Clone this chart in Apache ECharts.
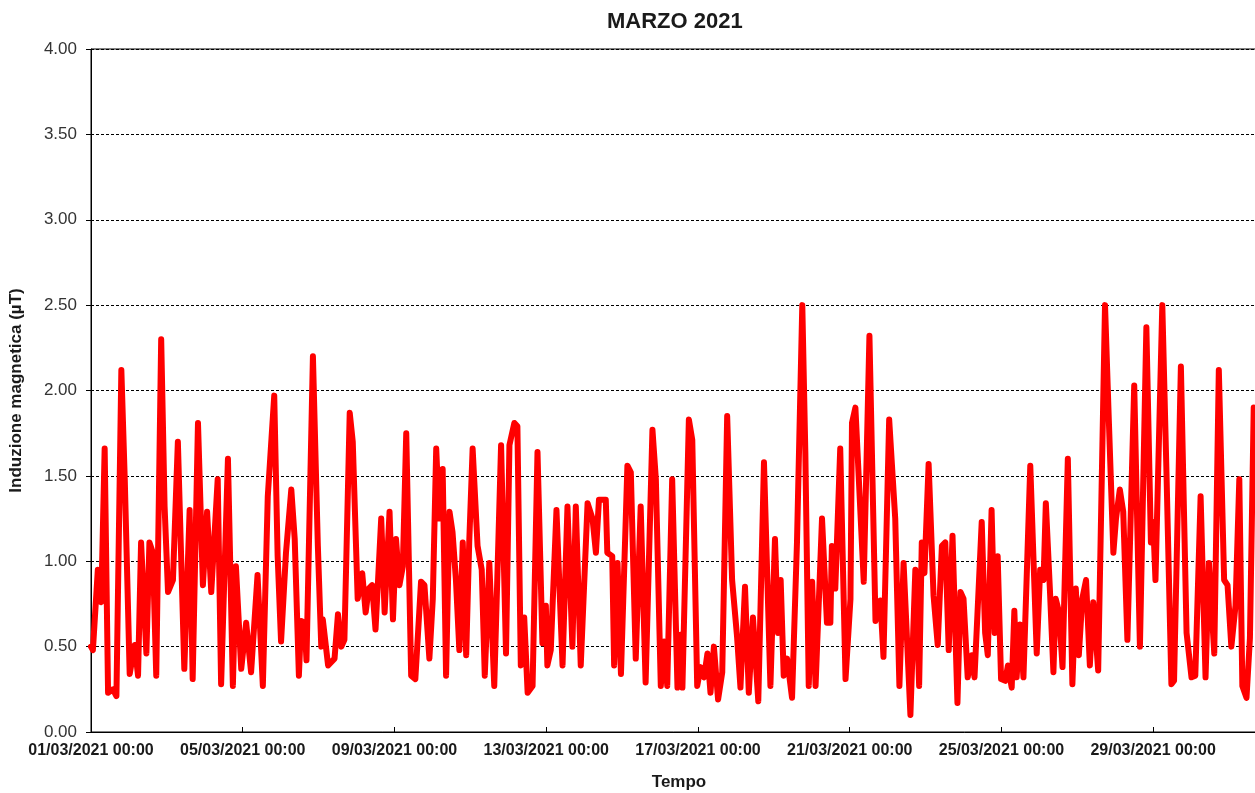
<!DOCTYPE html>
<html>
<head>
<meta charset="utf-8">
<script src="https://cdn.jsdelivr.net/npm/echarts@6/dist/echarts.min.js"></script>
<style>
  html, body { margin: 0; padding: 0; background: #ffffff; }
  #chart { width: 1255px; height: 793px; }
</style>
</head>
<body>
<div id="chart"></div>
<script>
// Chart texts
const chartTitle = 'MARZO 2021';
const yAxisTitle = 'Induzione magnetica (µT)';
const xAxisTitle = 'Tempo';
const monthLabel = '03/2021 00:00';

// Time of each reading, in days since 01/03/2021 00:00
const tDays = [
  0.00, 0.05, 0.18, 0.27, 0.36, 0.45, 0.58, 0.67, 0.80, 0.89,
  1.02, 1.15, 1.24, 1.32, 1.46, 1.54, 1.63, 1.72, 1.85, 1.94,
  2.03, 2.16, 2.29, 2.46, 2.60, 2.68, 2.82, 2.95, 3.06, 3.17,
  3.34, 3.43, 3.61, 3.74, 3.82, 3.96, 4.09, 4.22, 4.39, 4.53,
  4.66, 4.83, 4.92, 5.01, 5.14, 5.28, 5.37, 5.48, 5.54, 5.63,
  5.68, 5.85, 5.98, 6.07, 6.11, 6.25, 6.42, 6.51, 6.60, 6.68,
  6.82, 6.90, 7.03, 7.15, 7.24, 7.32, 7.41, 7.50, 7.65, 7.74,
  7.87, 7.96, 8.04, 8.13, 8.22, 8.31, 8.44, 8.55, 8.70, 8.79,
  8.92, 9.01, 9.10, 9.18, 9.27, 9.36, 9.45, 9.53, 9.62, 9.71,
  9.80, 9.89, 9.97, 10.06, 10.19, 10.30, 10.38, 10.50, 10.63, 10.81,
  10.94, 11.03, 11.16, 11.24, 11.33, 11.42, 11.51, 11.64, 11.77, 11.90,
  11.99, 12.03, 12.12, 12.27, 12.43, 12.56, 12.69, 12.78, 12.91, 13.09,
  13.22, 13.31, 13.39, 13.57, 13.61, 13.74, 13.79, 13.88, 13.97, 14.14,
  14.23, 14.36, 14.49, 14.62, 14.80, 14.89, 15.02, 15.11, 15.19, 15.32,
  15.46, 15.54, 15.59, 15.76, 15.85, 15.98, 16.07, 16.16, 16.25, 16.33,
  16.42, 16.53, 16.64, 16.77, 16.90, 17.03, 17.12, 17.24, 17.34, 17.45,
  17.59, 17.74, 17.91, 18.03, 18.11, 18.18, 18.26, 18.35, 18.48, 18.61,
  18.75, 18.83, 18.92, 19.01, 19.10, 19.27, 19.40, 19.49, 19.53, 19.62,
  19.75, 19.89, 20.02, 20.06, 20.15, 20.37, 20.52, 20.68, 20.81, 20.89,
  21.04, 21.20, 21.31, 21.42, 21.60, 21.73, 21.83, 21.90, 21.97, 22.08,
  22.21, 22.32, 22.43, 22.52, 22.61, 22.71, 22.84, 22.92, 23.00, 23.11,
  23.22, 23.29, 23.48, 23.57, 23.64, 23.74, 23.82, 23.90, 23.99, 24.10,
  24.17, 24.27, 24.34, 24.40, 24.49, 24.58, 24.76, 24.93, 25.02, 25.11,
  25.17, 25.28, 25.37, 25.43, 25.52, 25.61, 25.75, 25.87, 25.96, 26.04,
  26.13, 26.23, 26.33, 26.42, 26.55, 26.73, 26.83, 26.95, 27.02, 27.12,
  27.21, 27.32, 27.50, 27.65, 27.82, 27.94, 28.00, 28.06, 28.24, 28.35,
  28.48, 28.55, 28.73, 28.88, 29.01, 29.11, 29.25, 29.38, 29.47, 29.61,
  29.73, 29.87, 29.96, 30.06, 30.17, 30.27, 30.35, 30.46, 30.55, 30.65,
  30.80, 30.95
];

// Magnetic induction (µT) at each time
const induzione = [
  0.50, 0.48, 0.95, 0.76, 1.66, 0.23, 0.25, 0.21, 2.12, 1.48,
  0.34, 0.51, 0.33, 1.11, 0.46, 1.11, 1.05, 0.33, 2.30, 1.32,
  0.82, 0.89, 1.70, 0.37, 1.30, 0.31, 1.81, 0.86, 1.29, 0.82,
  1.48, 0.28, 1.60, 0.27, 0.97, 0.37, 0.64, 0.35, 0.92, 0.27,
  1.38, 1.97, 1.03, 0.53, 1.05, 1.42, 1.13, 0.33, 0.65, 0.64,
  0.42, 2.20, 1.09, 0.50, 0.66, 0.39, 0.43, 0.69, 0.50, 0.54,
  1.87, 1.70, 0.78, 0.93, 0.70, 0.84, 0.86, 0.60, 1.25, 0.70,
  1.29, 0.66, 1.13, 0.86, 0.97, 1.75, 0.33, 0.31, 0.88, 0.86,
  0.43, 0.78, 1.66, 1.25, 1.54, 0.33, 1.29, 1.17, 0.89, 0.48,
  1.11, 0.45, 1.11, 1.66, 1.09, 0.95, 0.33, 0.99, 0.27, 1.68,
  0.46, 1.68, 1.81, 1.79, 0.39, 0.67, 0.23, 0.27, 1.64, 0.52,
  0.74, 0.39, 0.48, 1.30, 0.39, 1.32, 0.50, 1.32, 0.39, 1.34,
  1.25, 1.05, 1.36, 1.36, 1.05, 1.03, 0.39, 0.99, 0.34, 1.56,
  1.52, 0.43, 1.32, 0.29, 1.77, 1.48, 0.27, 0.53, 0.27, 1.48,
  0.26, 0.57, 0.26, 1.83, 1.71, 0.27, 0.38, 0.32, 0.46, 0.23,
  0.50, 0.19, 0.35, 1.85, 0.89, 0.56, 0.26, 0.85, 0.23, 0.67,
  0.18, 1.58, 0.27, 1.13, 0.58, 0.89, 0.33, 0.43, 0.20, 1.11,
  2.50, 1.64, 0.27, 0.88, 0.27, 1.25, 0.64, 0.64, 1.09, 0.84,
  1.66, 0.31, 0.78, 1.81, 1.90, 0.88, 2.32, 0.65, 0.77, 0.44,
  1.83, 1.25, 0.27, 0.99, 0.10, 0.95, 0.27, 1.11, 0.93, 1.57,
  0.80, 0.51, 1.09, 1.11, 0.48, 1.15, 0.17, 0.82, 0.78, 0.32,
  0.45, 0.32, 1.23, 0.58, 0.45, 1.30, 0.58, 1.03, 0.31, 0.30,
  0.39, 0.26, 0.71, 0.32, 0.63, 0.32, 1.56, 0.46, 0.95, 0.89,
  1.34, 0.82, 0.35, 0.78, 0.70, 0.38, 1.60, 0.28, 0.84, 0.45,
  0.78, 0.89, 0.39, 0.76, 0.36, 2.50, 1.83, 1.05, 1.25, 1.42,
  1.29, 0.54, 2.03, 0.50, 2.37, 1.11, 1.23, 0.89, 2.50, 1.52,
  0.28, 0.30, 2.14, 0.58, 0.32, 0.33, 1.38, 0.32, 0.99, 0.46,
  2.12, 0.89, 0.86, 0.50, 0.74, 1.48, 0.27, 0.20, 0.55, 1.90,
  1.30, 0.80
];

// Axis scales
const yMin = 0, yMax = 4, yStep = 0.5;
const xMinDay = 0, xMaxDay = 31, xStepDays = 4;

const seriesData = tDays.map((t, i) => [t, induzione[i]]);
const pad2 = n => (n < 10 ? '0' : '') + n;

const chart = echarts.init(document.getElementById('chart'), null, { renderer: 'canvas' });
chart.setOption({
  animation: false,
  backgroundColor: '#ffffff',
  title: {
    text: chartTitle,
    left: 602,
    top: 6,
    textStyle: { fontFamily: 'Liberation Sans', fontWeight: 'bold', fontSize: 22, color: '#1a1a1a' }
  },
  grid: {
    left: 91, top: 49, bottom: 61, right: -12,
    containLabel: false,
    outerBoundsMode: 'none',
    show: true,
    borderColor: '#000000',
    borderWidth: 1,
    backgroundColor: 'transparent'
  },
  xAxis: {
    type: 'value',
    min: xMinDay, max: xMaxDay, interval: xStepDays,
    name: xAxisTitle,
    nameLocation: 'middle',
    nameGap: 42,
    nameTextStyle: { fontFamily: 'Liberation Sans', fontWeight: 'bold', fontSize: 17, color: '#1a1a1a' },
    axisLine: { show: true, onZero: false, lineStyle: { color: '#000000', width: 1 } },
    axisTick: { show: true, inside: true, length: 5, lineStyle: { color: '#000000' } },
    splitLine: { show: false },
    axisLabel: {
      margin: 11,
      fontFamily: 'Liberation Sans', fontWeight: 'bold', fontSize: 16, color: '#1a1a1a',
      showMaxLabel: false,
      formatter: v => pad2(Math.round(v) + 1) + '/' + monthLabel
    }
  },
  yAxis: {
    type: 'value',
    min: yMin, max: yMax, interval: yStep,
    name: yAxisTitle,
    nameLocation: 'middle',
    nameGap: 66,
    nameRotate: 90,
    nameTextStyle: { fontFamily: 'Liberation Sans', fontWeight: 'bold', fontSize: 17, color: '#1a1a1a' },
    axisLine: { show: true, lineStyle: { color: '#000000', width: 1 } },
    axisTick: { show: true, inside: false, length: 5, lineStyle: { color: '#000000' } },
    splitLine: { show: true, lineStyle: { color: '#000000', width: 1, type: [3, 2] } },
    axisLabel: {
      margin: 14,
      fontFamily: 'Liberation Sans', fontSize: 17, color: '#333333',
      formatter: v => v.toFixed(2)
    }
  },
  series: [{
    type: 'line',
    data: seriesData,
    showSymbol: false,
    symbol: 'none',
    smooth: false,
    clip: true,
    lineStyle: { color: '#ff0000', width: 6, join: 'round', cap: 'round' }
  }]
});
</script>
</body>
</html>
